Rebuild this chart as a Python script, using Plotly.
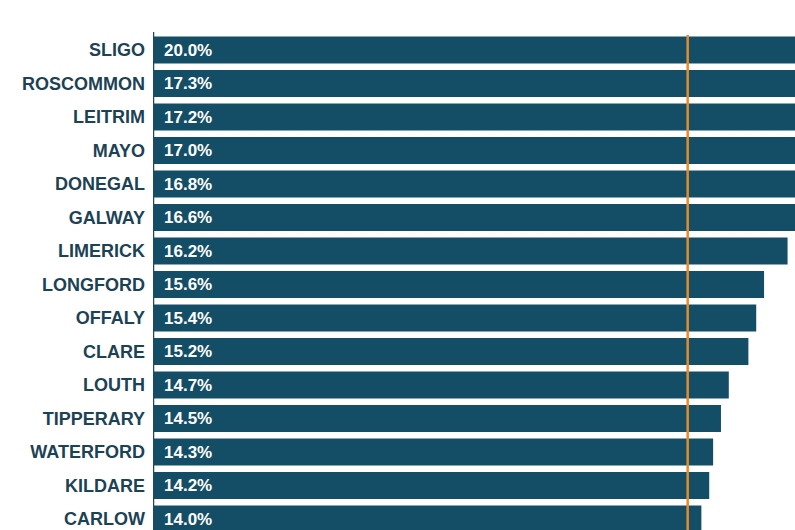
import plotly.graph_objects as go

counties = ["SLIGO", "ROSCOMMON", "LEITRIM", "MAYO", "DONEGAL", "GALWAY", "LIMERICK",
            "LONGFORD", "OFFALY", "CLARE", "LOUTH", "TIPPERARY", "WATERFORD", "KILDARE", "CARLOW"]
values = [20.0, 17.3, 17.2, 17.0, 16.8, 16.6, 16.2, 15.6, 15.4, 15.2, 14.7, 14.5, 14.3, 14.2, 14.0]
reference_value = 13.65
value_labels = [f"{v:.1f}%" for v in values]

BAR = "#144e66"
LABEL = "#1c4255"
ORANGE = "#e88a2c"

fig = go.Figure()
fig.add_trace(go.Bar(
    x=values, y=counties, orientation="h",
    marker=dict(color=BAR, line=dict(width=0)),
    width=0.8, hoverinfo="skip",
))

for c, lab in zip(counties, value_labels):
    fig.add_annotation(x=0, y=c, text=lab, showarrow=False, xanchor="left", xshift=9,
                       font=dict(family="Liberation Sans, Arial", size=17, color="white", weight="bold"))

fig.add_shape(type="line", xref="x", yref="y", x0=0, x1=0, y0=-0.54, y1=14.5,
              line=dict(color="#1d4a60", width=2.5))
fig.add_shape(type="line", xref="x", yref="y", x0=reference_value, x1=reference_value,
              y0=-0.45, y1=14.5, line=dict(color=ORANGE, width=2.5))

fig.update_layout(
    width=795, height=530,
    margin=dict(l=153, r=0, t=0, b=0),
    paper_bgcolor="white", plot_bgcolor="white",
    showlegend=False, bargap=0.2,
    xaxis=dict(range=[0, 16.39], showgrid=False, zeroline=False, showticklabels=False,
               showline=False, fixedrange=True),
    yaxis=dict(categoryorder="array", categoryarray=counties, range=[14.328, -1.4925],
               showgrid=False, zeroline=False, showline=False, ticks="",
               ticklabelstandoff=7,
               tickfont=dict(family="Liberation Sans, Arial", size=18, color=LABEL, weight="bold")),
)

fig.write_html("out.html")
